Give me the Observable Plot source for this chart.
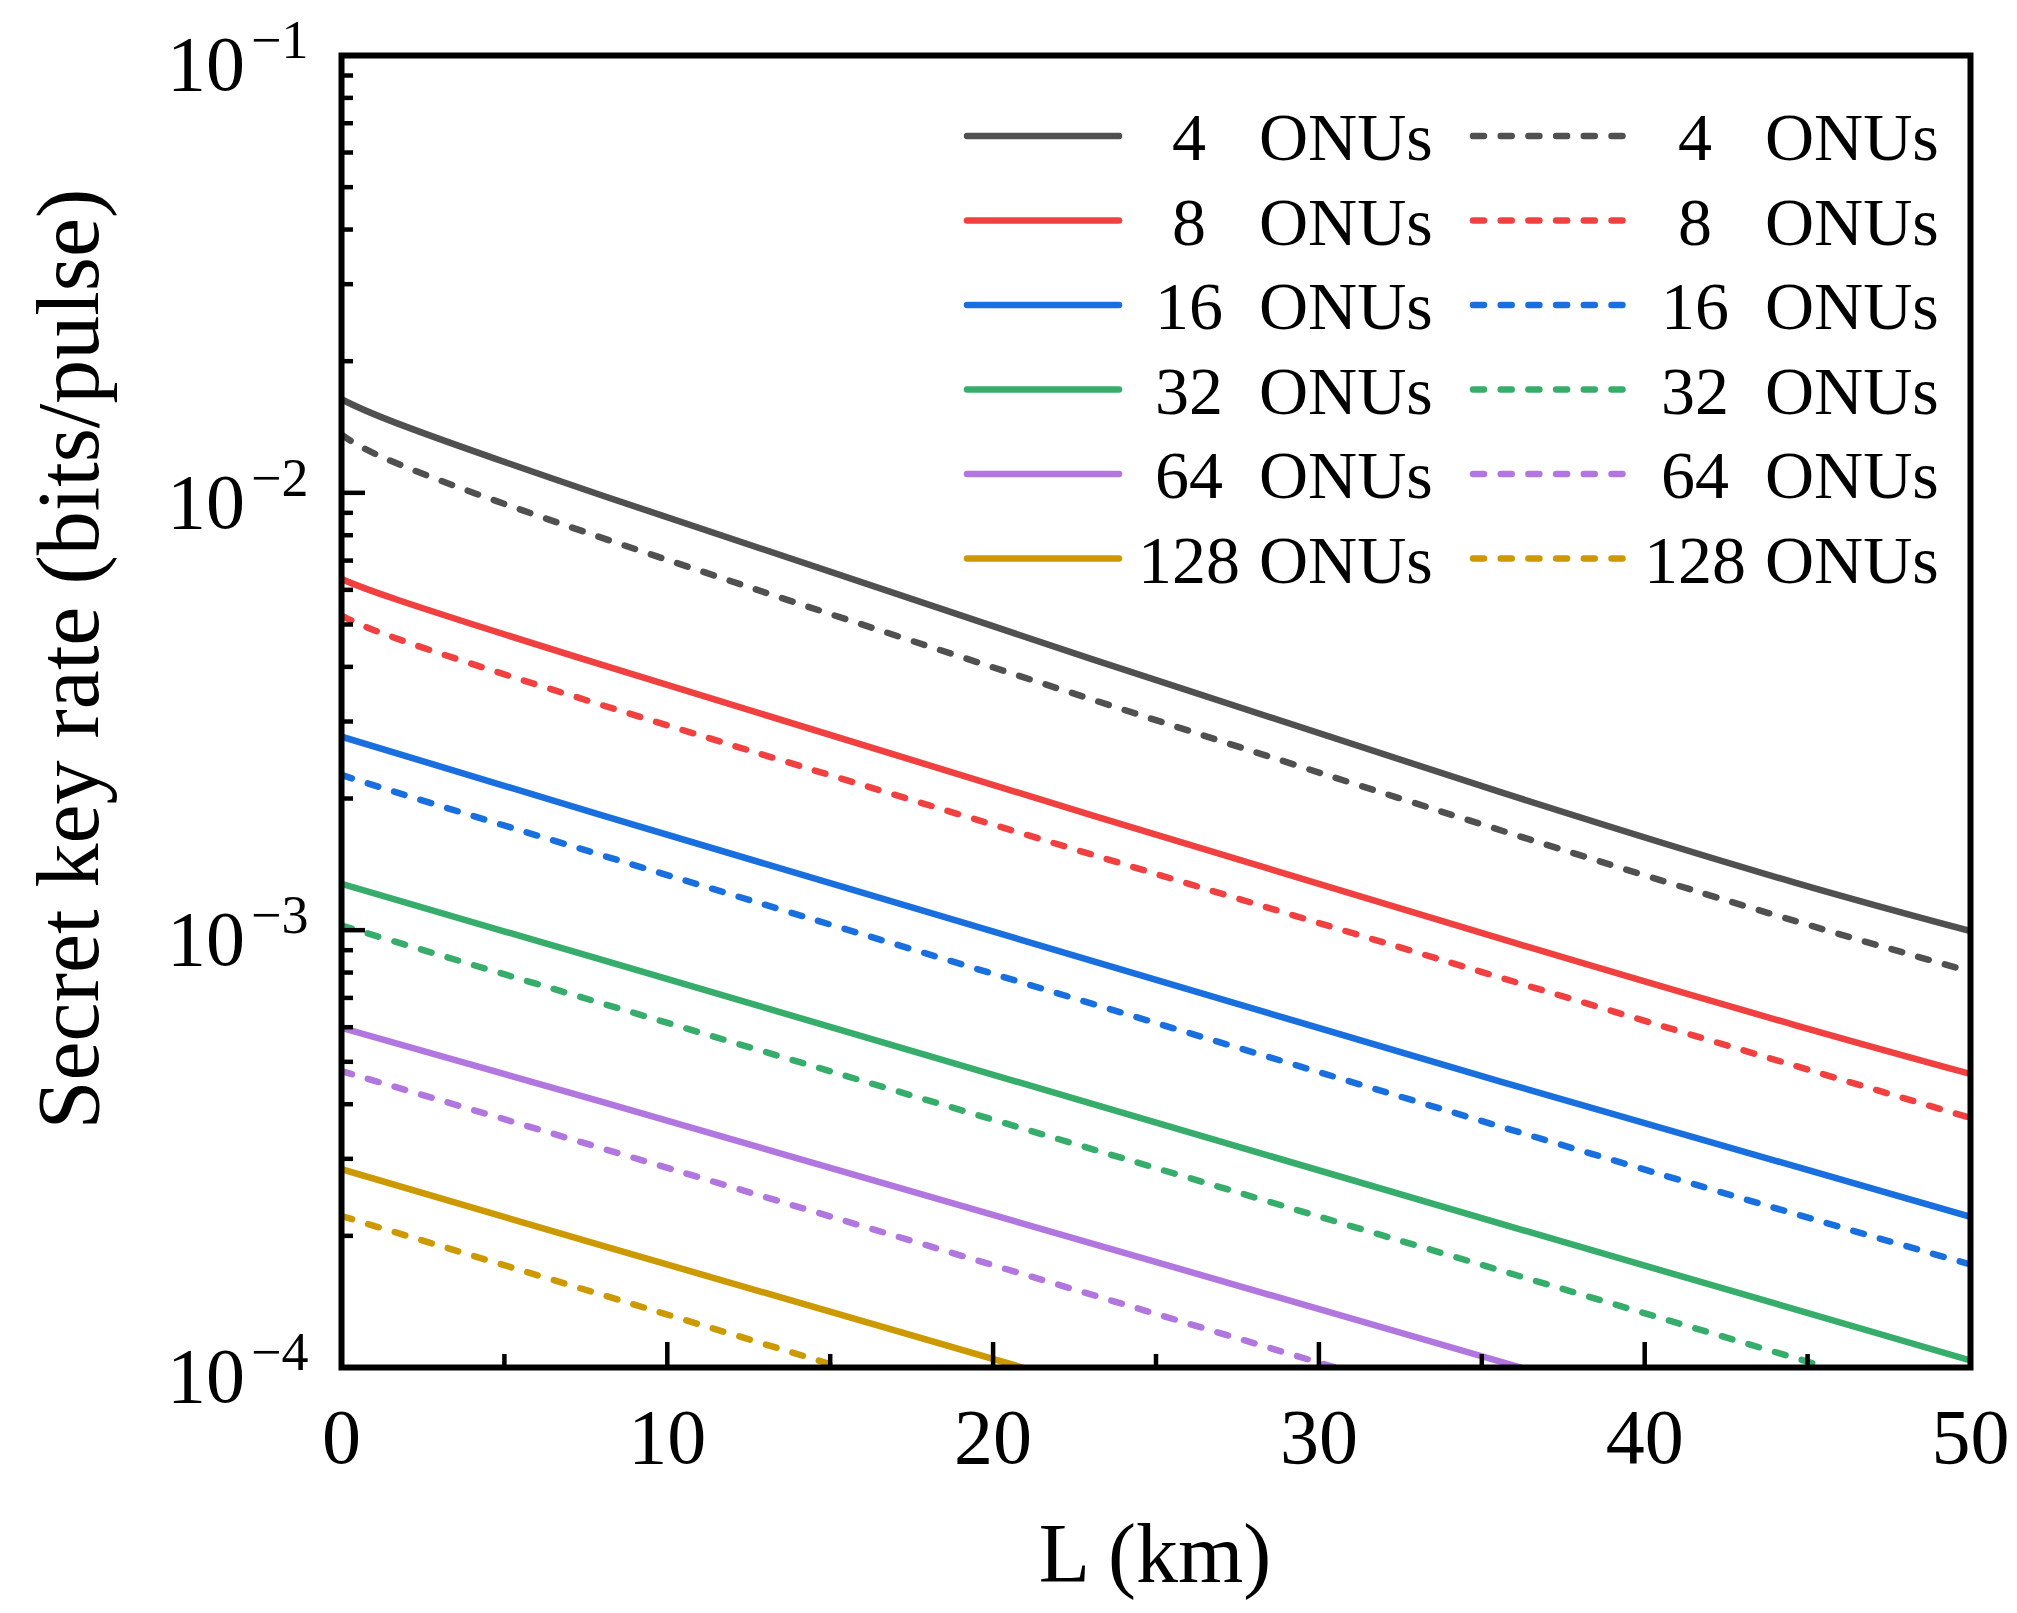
<!DOCTYPE html>
<html><head><meta charset="utf-8">
<script src="https://cdn.jsdelivr.net/npm/d3@7"></script>
<script src="https://cdn.jsdelivr.net/npm/@observablehq/plot@0.6"></script>
<style>html,body{margin:0;padding:0;background:#fff;} #chart{width:2017px;height:1613px;}</style>
</head><body><div id="chart"></div>
<script>
const onus = [4, 8, 16, 32, 64, 128];
const colors = ["#505050", "#f14040", "#1a6fdf", "#37ad6b", "#b177de", "#cc9900"];

// solid lines: distance (km) and secret key rate (bits/pulse)
const solidDist = [
  [0, 8, 35.6, 50],
  [0, 8, 35.6, 50],
  [0, 8, 35.6, 50],
  [0, 8, 35.6, 50],
  [0, 8, 36.2],
  [0, 8, 20.9]
];
const solidRate = [
  [1.637e-2, 9.86e-3, 2.065e-3, 9.95e-4],
  [6.35e-3, 4.04e-3, 9.55e-4, 4.69e-4],
  [2.77e-3, 1.83e-3, 4.50e-4, 2.21e-4],
  [1.276e-3, 8.55e-4, 2.13e-4, 1.038e-4],
  [5.98e-4, 4.05e-4, 1.0e-4],
  [2.84e-4, 1.90e-4, 1.0e-4]
];
// dashed lines
const dashedDist = [
  [0, 8, 35.6, 50],
  [0, 8, 35.6, 50],
  [0, 8, 35.6, 50],
  [0, 8, 45.6],
  [0, 8, 30.5],
  [0, 8, 15.35]
];
const dashedRate = [
  [1.358e-2, 7.89e-3, 1.690e-3, 8.04e-4],
  [5.24e-3, 3.27e-3, 7.78e-4, 3.72e-4],
  [2.265e-3, 1.483e-3, 3.55e-4, 1.72e-4],
  [1.026e-3, 6.80e-4, 1.0e-4],
  [4.76e-4, 3.17e-4, 1.0e-4],
  [2.22e-4, 1.466e-4, 1.0e-4]
];

const xMajorTicks = [0, 10, 20, 30, 40, 50];
const xMinorTicks = [5, 15, 25, 35, 45];
const yMajorTicks = [1e-1, 1e-2, 1e-3, 1e-4];
const yTickLabels = ["10^−1", "10^−2", "10^−3", "10^−4"];
const yMinorTicks = [
  2e-4, 3e-4, 4e-4, 5e-4, 6e-4, 7e-4, 8e-4, 9e-4,
  2e-3, 3e-3, 4e-3, 5e-3, 6e-3, 7e-3, 8e-3, 9e-3,
  2e-2, 3e-2, 4e-2, 5e-2, 6e-2, 7e-2, 8e-2, 9e-2
];
const xLabel = "L (km)";
const yLabel = "Secret key rate (bits/pulse)";
const legendSuffix = "ONUs";

const font = "Liberation Serif";
const dash = "11,16.7";
const lw = 6.5;

const toRows = (dist, rate) => dist.flatMap((Ls, i) => Ls.map((L, j) => ({L, rate: rate[i][j], onu: onus[i]})));
const solid = toRows(solidDist, solidRate);
const dashed = toRows(dashedDist, dashedRate);

const svg = Plot.plot({
  width: 2017, height: 1613,
  marginLeft: 341, marginRight: 47, marginTop: 55, marginBottom: 246,
  style: {fontFamily: font, background: "white", color: "black"},
  x: {domain: [0, 50], label: null},
  y: {type: "log", domain: [1e-4, 1e-1], label: null},
  color: {domain: onus, range: colors},
  marks: [
    Plot.line(solid, {x: "L", y: "rate", z: "onu", stroke: "onu", strokeWidth: lw, strokeLinecap: "round", curve: "natural", clip: true}),
    Plot.line(dashed, {x: "L", y: "rate", z: "onu", stroke: "onu", strokeWidth: lw, strokeDasharray: dash, strokeLinecap: "round", curve: "natural", clip: true}),
    Plot.axisX(xMajorTicks, {anchor: "bottom", tickSize: 25, dy: -25, strokeWidth: 4.5, tickFormat: () => ""}),
    Plot.axisX(xMinorTicks, {anchor: "bottom", tickSize: 13, dy: -13, strokeWidth: 4.5, tickFormat: () => ""}),
    Plot.axisX(xMajorTicks, {anchor: "bottom", tickSize: 0, tickPadding: 40, fontSize: 78, tickFormat: d => String(d)}),
    Plot.axisY(yMajorTicks, {anchor: "left", tickSize: 24, dx: 24, strokeWidth: 4.5, tickFormat: () => ""}),
    Plot.axisY(yMinorTicks, {anchor: "left", tickSize: 12, dx: 12, strokeWidth: 4.5, tickFormat: () => ""}),
    Plot.axisY(yMajorTicks, {anchor: "left", tickSize: 0, tickPadding: 33, dy: 10, fontSize: 78, tickFormat: d => yTickLabels[yMajorTicks.indexOf(d)]}),
    Plot.frame({stroke: "black", strokeWidth: 6})
  ]
});

const root = d3.select(svg);
// superscripts for log tick labels
root.selectAll("g").filter(function () {
  const a = this.getAttribute("aria-label") || "";
  return a.includes("y-axis tick label");
}).selectAll("text").each(function () {
  const s = this.textContent;
  if (!s.includes("^")) return;
  const [b, e] = s.split("^");
  this.textContent = "";
  const t = d3.select(this);
  t.append("tspan").text(b);
  t.append("tspan").attr("dx", 6).attr("dy", -32).attr("font-size", 54).text(e);
});

// axis labels
root.append("text").attr("x", 1155).attr("y", 1582).attr("text-anchor", "middle")
  .attr("font-family", font).attr("font-size", 84).attr("fill", "black").text(xLabel);
root.append("text").attr("transform", "translate(98,659) rotate(-90)").attr("text-anchor", "middle")
  .attr("font-family", font).attr("font-size", 88).attr("fill", "black").text(yLabel);

// legend
const lg = root.append("g").attr("font-family", font).attr("font-size", 68).attr("fill", "black");
onus.forEach((n, i) => {
  const y = 136 + i * 84.5;
  const cols = [
    {x0: 967, x1: 1119, cx: 1189, tx: 1259, d: null},
    {x0: 1473, x1: 1627, cx: 1695, tx: 1765, d: dash}
  ];
  for (const c of cols) {
    const ln = lg.append("line").attr("x1", c.x0).attr("x2", c.x1).attr("y1", y).attr("y2", y)
      .attr("stroke", colors[i]).attr("stroke-width", lw).attr("stroke-linecap", "round");
    if (c.d) ln.attr("stroke-dasharray", c.d);
    lg.append("text").attr("x", c.cx).attr("y", y + 24).attr("text-anchor", "middle").text(n);
    lg.append("text").attr("x", c.tx).attr("y", y + 24).attr("text-anchor", "start").text(legendSuffix);
  }
});

document.getElementById("chart").appendChild(svg);
</script>
</body></html>
